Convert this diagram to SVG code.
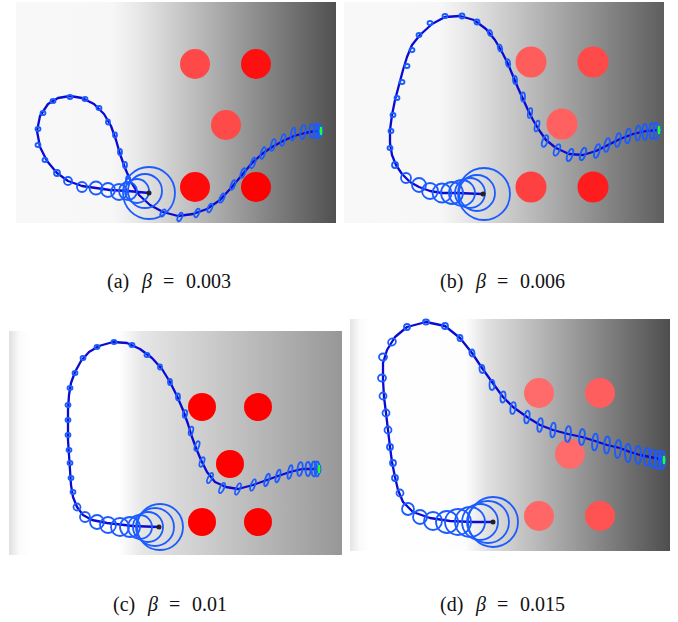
<svg xmlns="http://www.w3.org/2000/svg" width="678" height="622" viewBox="0 0 678 622">
<style>
.traj{fill:none;stroke:#0a0ad2;stroke-width:2.3;stroke-linejoin:round;stroke-linecap:round}
.cov{fill:none;stroke:#1c5cff;stroke-width:1.8}
.dot{fill:#222}
.goal{fill:#22ff22;stroke:#1c5cff;stroke-width:1}
.cap{font-family:"Liberation Serif","Times New Roman",serif;font-size:20px;fill:#111}
.it{font-style:italic}
</style>
<defs>
<linearGradient id="ga" x1="0" y1="0" x2="1" y2="0">
<stop offset="0" stop-color="#f8f8f8"/><stop offset="0.3" stop-color="#f7f7f7"/><stop offset="0.38" stop-color="#e8e8e8"/><stop offset="1" stop-color="#505050"/>
</linearGradient>
<linearGradient id="gb" x1="0" y1="0" x2="1" y2="0">
<stop offset="0" stop-color="#f8f8f8"/><stop offset="0.3" stop-color="#f7f7f7"/><stop offset="0.38" stop-color="#e8e8e8"/><stop offset="1" stop-color="#5e5e5e"/>
</linearGradient>
<linearGradient id="gc" x1="0" y1="0" x2="1" y2="0">
<stop offset="0" stop-color="#e0e0e0"/><stop offset="0.03" stop-color="#fafafa"/><stop offset="0.06" stop-color="#ffffff"/><stop offset="0.33" stop-color="#ffffff"/><stop offset="0.4" stop-color="#e6e6e6"/><stop offset="1" stop-color="#979797"/>
</linearGradient>
<linearGradient id="gd" x1="0" y1="0" x2="1" y2="0">
<stop offset="0" stop-color="#e4e4e4"/><stop offset="0.03" stop-color="#fafafa"/><stop offset="0.06" stop-color="#ffffff"/><stop offset="0.36" stop-color="#fdfdfd"/><stop offset="0.43" stop-color="#e0e0e0"/><stop offset="1" stop-color="#4e4e4e"/>
</linearGradient>
</defs>

<!-- Panel (a) -->
<g id="panel-a">
<rect x="16" y="2" width="320" height="221" fill="url(#ga)"/>
<circle cx="195" cy="64" r="15" fill="#ff4848"/>
<circle cx="256" cy="64" r="15" fill="#ff1010"/>
<circle cx="226" cy="125" r="15" fill="#ff4a4a"/>
<circle cx="195" cy="187" r="15" fill="#ff0a0a"/>
<circle cx="256" cy="187" r="15" fill="#ff0000"/>
<path class="traj" d="M149,193 L128,191 L110,190 L96,188 L82,186 L68,181 L57,173 L47,161 L40,147 L37,131 L40,116 L48,104 L58,98 L70,96 L82,98 L94,104 L104,114 L111,126 L116,140 L120,154 L125,168 L131,182 L139,195 L150,205 L163,212 L178,216 L193,214 L207,209 L220,200 L231,188 L242,175 L252,163 L262,154 L272,147 L283,141 L294,136 L305,133 L315,131 L321,131"/>
<g class="cov">
<circle cx="68" cy="181" r="4"/><circle cx="82" cy="187" r="5"/><circle cx="96" cy="188" r="6.5"/><circle cx="108" cy="190" r="7"/><circle cx="119" cy="192" r="8"/><circle cx="128" cy="191" r="9"/><circle cx="137" cy="191" r="12"/><circle cx="145" cy="191" r="17"/><circle cx="149" cy="193" r="26"/>
<ellipse cx="43" cy="113" rx="2.5" ry="2"/><ellipse cx="53" cy="101" rx="2.5" ry="2"/><ellipse cx="70" cy="97" rx="2.5" ry="2"/><ellipse cx="85" cy="99" rx="2.5" ry="2"/><ellipse cx="99" cy="108" rx="2.5" ry="2"/><ellipse cx="108" cy="122" rx="2" ry="2.5"/><ellipse cx="115" cy="135" rx="2" ry="2.5"/><ellipse cx="120" cy="152" rx="2" ry="3"/><ellipse cx="125" cy="165" rx="2" ry="3"/><ellipse cx="38" cy="129" rx="2.5" ry="2"/><ellipse cx="38" cy="145" rx="2.5" ry="2"/><ellipse cx="45" cy="160" rx="2.5" ry="2"/><ellipse cx="57" cy="173" rx="3" ry="3"/><ellipse cx="128" cy="180" rx="2" ry="4"/>
<ellipse cx="163" cy="213" rx="2" ry="4" transform="rotate(30 163 213)"/><ellipse cx="180" cy="217" rx="2" ry="4.5" transform="rotate(25 180 217)"/><ellipse cx="197" cy="213" rx="2" ry="4.5" transform="rotate(25 197 213)"/><ellipse cx="210" cy="208" rx="2" ry="4.5" transform="rotate(25 210 208)"/><ellipse cx="222" cy="198" rx="2" ry="5" transform="rotate(25 222 198)"/><ellipse cx="233" cy="185" rx="2" ry="5" transform="rotate(22 233 185)"/><ellipse cx="243" cy="173" rx="2" ry="5" transform="rotate(22 243 173)"/><ellipse cx="253" cy="163" rx="2" ry="5.5" transform="rotate(20 253 163)"/><ellipse cx="263" cy="153" rx="2" ry="6" transform="rotate(18 263 153)"/><ellipse cx="273" cy="145" rx="2" ry="6" transform="rotate(15 273 145)"/><ellipse cx="283" cy="140" rx="2" ry="6" transform="rotate(12 283 140)"/><ellipse cx="293" cy="134" rx="2" ry="6.5" transform="rotate(10 293 134)"/><ellipse cx="303" cy="132" rx="2.5" ry="7" transform="rotate(8 303 132)"/><ellipse cx="312" cy="131" rx="2.5" ry="7"/><ellipse cx="316" cy="131" rx="2.5" ry="7"/><ellipse cx="319" cy="131" rx="2.5" ry="7"/>
</g>
<ellipse class="goal" cx="321" cy="131" rx="2" ry="5"/>
<circle class="dot" cx="149" cy="193" r="2.5"/>
</g>

<!-- Panel (b) -->
<g id="panel-b">
<rect x="344" y="2" width="320" height="221" fill="url(#gb)"/>
<circle cx="531" cy="62" r="15.5" fill="#ff5c5c"/>
<circle cx="593" cy="62" r="15.5" fill="#ff4a4a"/>
<circle cx="562" cy="124" r="15.5" fill="#ff6060"/>
<circle cx="531" cy="187" r="15.5" fill="#ff4040"/>
<circle cx="593" cy="187" r="15.5" fill="#ff1c1c"/>
<path class="traj" d="M483,194 L457,193 L442,193 L430,191 L419,187 L410,182 L402,174 L396,165 L392,155 L390,143 L390,130 L392,115 L395,100 L399,85 L403,70 L407,57 L412,45 L420,35 L432,24 L445,17 L460,16 L474,20 L486,29 L495,40 L502,52 L508,64 L513,76 L518,88 L523,99 L528,110 L533,120 L539,130 L546,140 L556,148 L569,154 L583,155 L596,151 L608,145 L620,139 L633,134 L646,131 L660,130"/>
<g class="cov">
<circle cx="406" cy="178" r="5"/><circle cx="419" cy="185" r="7"/><circle cx="430" cy="191" r="8"/><circle cx="442" cy="193" r="9.5"/><circle cx="452" cy="193" r="11"/><circle cx="462" cy="193" r="13"/><circle cx="470" cy="193" r="15"/><circle cx="477" cy="193" r="18"/><circle cx="484" cy="194" r="26"/>
<ellipse cx="430" cy="23" rx="2.5" ry="2"/><ellipse cx="419" cy="35" rx="2.5" ry="2"/><ellipse cx="412" cy="50" rx="2.5" ry="2"/><ellipse cx="407" cy="66" rx="2.5" ry="2"/><ellipse cx="402" cy="82" rx="2.5" ry="2"/><ellipse cx="397" cy="98" rx="2.5" ry="2"/><ellipse cx="393" cy="115" rx="2.5" ry="2"/><ellipse cx="391" cy="131" rx="2.5" ry="2"/><ellipse cx="390" cy="148" rx="2.5" ry="2"/><ellipse cx="395" cy="165" rx="3" ry="3"/>
<ellipse cx="445" cy="16" rx="2.5" ry="2"/><ellipse cx="462" cy="16" rx="2.5" ry="2.5"/><ellipse cx="477" cy="22" rx="2.5" ry="2.5"/><ellipse cx="490" cy="33" rx="2" ry="3" transform="rotate(-20 490 33)"/><ellipse cx="500" cy="48" rx="2" ry="3.5" transform="rotate(-15 500 48)"/><ellipse cx="508" cy="63" rx="2" ry="4" transform="rotate(-10 508 63)"/><ellipse cx="515" cy="80" rx="2" ry="4" transform="rotate(-5 515 80)"/><ellipse cx="523" cy="97" rx="2" ry="4.5"/><ellipse cx="530" cy="113" rx="2" ry="5" transform="rotate(10 530 113)"/><ellipse cx="537" cy="126" rx="2" ry="5.5" transform="rotate(15 537 126)"/><ellipse cx="545" cy="141" rx="2.5" ry="6" transform="rotate(20 545 141)"/><ellipse cx="557" cy="150" rx="2.5" ry="6" transform="rotate(22 557 150)"/><ellipse cx="570" cy="155" rx="2.5" ry="6.5" transform="rotate(20 570 155)"/><ellipse cx="583" cy="154" rx="2.5" ry="6.5" transform="rotate(18 583 154)"/><ellipse cx="597" cy="151" rx="2.5" ry="7" transform="rotate(15 597 151)"/><ellipse cx="607" cy="145" rx="2.5" ry="7" transform="rotate(12 607 145)"/><ellipse cx="618" cy="140" rx="2.5" ry="7" transform="rotate(10 618 140)"/><ellipse cx="628" cy="136" rx="2.5" ry="7.5" transform="rotate(8 628 136)"/><ellipse cx="638" cy="133" rx="2.5" ry="7.5" transform="rotate(5 638 133)"/><ellipse cx="645" cy="132" rx="2.5" ry="8"/><ellipse cx="652" cy="131" rx="2.5" ry="8"/><ellipse cx="656" cy="131" rx="2.5" ry="8"/>
</g>
<ellipse class="goal" cx="659" cy="130" rx="2" ry="5"/>
<circle class="dot" cx="483" cy="194" r="2.5"/>
</g>

<!-- Panel (c) -->
<g id="panel-c">
<rect x="9" y="331" width="333" height="224" fill="url(#gc)"/>
<circle cx="202" cy="407" r="14" fill="#ff0000"/>
<circle cx="258" cy="407" r="14" fill="#ff0000"/>
<circle cx="230" cy="464" r="14" fill="#ff0000"/>
<circle cx="202" cy="522" r="14" fill="#ff0000"/>
<circle cx="258" cy="522" r="14" fill="#ff0000"/>
<path class="traj" d="M159,527 L133,526 L107,523 L92,520 L83,515 L77,507 L73,497 L71,485 L70,470 L69,455 L68,440 L68,425 L68,410 L69,395 L71,383 L75,372 L81,361 L89,352 L99,346 L113,342 L127,343 L140,349 L152,358 L162,369 L170,382 L177,396 L183,410 L188,424 L192,437 L196,448 L201,460 L207,472 L215,482 L226,487 L238,489 L253,485 L267,480 L278,476 L290,472 L302,469 L318,469"/>
<g class="cov">
<circle cx="85" cy="517" r="5"/><circle cx="97" cy="522" r="7"/><circle cx="108" cy="525" r="8"/><circle cx="120" cy="527" r="9"/><circle cx="130" cy="527" r="10"/><circle cx="140" cy="527" r="12"/><circle cx="148" cy="527" r="15"/><circle cx="155" cy="527" r="19"/><circle cx="160" cy="527" r="23"/>
<ellipse cx="70" cy="388" rx="2.5" ry="2"/><ellipse cx="68" cy="405" rx="2.5" ry="2"/><ellipse cx="68" cy="420" rx="2.5" ry="2"/><ellipse cx="68" cy="435" rx="2.5" ry="2"/><ellipse cx="69" cy="450" rx="2.5" ry="2"/><ellipse cx="70" cy="463" rx="2.5" ry="2"/><ellipse cx="71" cy="478" rx="2.5" ry="2"/><ellipse cx="73" cy="492" rx="2.5" ry="2"/><circle cx="77" cy="507" r="3.5"/>
<ellipse cx="75" cy="373" rx="2.5" ry="2"/><ellipse cx="83" cy="358" rx="2.5" ry="2"/><ellipse cx="97" cy="347" rx="2.5" ry="2"/><ellipse cx="114" cy="342" rx="2.5" ry="2"/><ellipse cx="132" cy="345" rx="2.5" ry="2"/><ellipse cx="147" cy="355" rx="2.5" ry="2"/><ellipse cx="160" cy="367" rx="2" ry="2.5"/><ellipse cx="170" cy="382" rx="2" ry="3"/><ellipse cx="178" cy="397" rx="2" ry="3.5"/><ellipse cx="185" cy="414" rx="2" ry="4" transform="rotate(10 185 414)"/><ellipse cx="191" cy="431" rx="2" ry="4.5" transform="rotate(15 191 431)"/><ellipse cx="197" cy="446" rx="2" ry="5" transform="rotate(20 197 446)"/><ellipse cx="202" cy="462" rx="2" ry="5" transform="rotate(20 202 462)"/><ellipse cx="210" cy="478" rx="2" ry="5.5" transform="rotate(25 210 478)"/><ellipse cx="222" cy="488" rx="2" ry="5.5" transform="rotate(25 222 488)"/><ellipse cx="238" cy="489" rx="2" ry="6" transform="rotate(22 238 489)"/><ellipse cx="253" cy="485" rx="2" ry="6" transform="rotate(20 253 485)"/><ellipse cx="267" cy="480" rx="2" ry="6.5" transform="rotate(18 267 480)"/><ellipse cx="278" cy="476" rx="2" ry="6.5" transform="rotate(15 278 476)"/><ellipse cx="290" cy="472" rx="2" ry="7" transform="rotate(12 290 472)"/><ellipse cx="300" cy="469" rx="2.5" ry="7" transform="rotate(8 300 469)"/><ellipse cx="308" cy="469" rx="2.5" ry="7"/><ellipse cx="314" cy="469" rx="2.5" ry="7.5"/><ellipse cx="317" cy="469" rx="2.5" ry="7.5"/>
</g>
<ellipse class="goal" cx="319" cy="469" rx="2" ry="5"/>
<circle class="dot" cx="159" cy="527" r="2.5"/>
</g>

<!-- Panel (d) -->
<g id="panel-d">
<rect x="350" y="319" width="320" height="232" fill="url(#gd)"/>
<circle cx="539" cy="393" r="15" fill="#ff6a6a"/>
<circle cx="600" cy="393" r="15" fill="#ff5e5e"/>
<circle cx="570" cy="454" r="15" fill="#ff6a6a"/>
<circle cx="539" cy="516" r="15" fill="#ff6666"/>
<circle cx="600" cy="516" r="15" fill="#ff5252"/>
<path class="traj" d="M493,522 L473,522 L450,521 L430,518 L413,512 L403,502 L398,490 L395,477 L392,462 L390,447 L388,430 L386,413 L384,397 L383,380 L383,363 L387,350 L395,337 L407,327 L426,322 L445,326 L460,338 L472,353 L482,368 L492,382 L503,397 L513,407 L527,417 L540,425 L553,430 L568,434 L582,437 L595,441 L607,445 L620,448 L630,452 L640,455 L650,457 L660,459 L665,460"/>
<g class="cov">
<circle cx="408" cy="509" r="6"/><circle cx="420" cy="517" r="7"/><circle cx="433" cy="521" r="9"/><circle cx="447" cy="522" r="11"/><circle cx="458" cy="522" r="13"/><circle cx="470" cy="522" r="15"/><circle cx="480" cy="522" r="18"/><circle cx="488" cy="522" r="21"/><circle cx="493" cy="522" r="25"/>
<ellipse cx="383" cy="357" rx="4" ry="3.5"/><ellipse cx="382" cy="378" rx="4" ry="3.5"/><ellipse cx="383" cy="396" rx="3.5" ry="3.5"/><ellipse cx="386" cy="413" rx="3.5" ry="3.5"/><ellipse cx="388" cy="430" rx="3.5" ry="3.5"/><ellipse cx="390" cy="447" rx="3" ry="3"/><ellipse cx="393" cy="463" rx="3" ry="3"/><ellipse cx="395" cy="478" rx="3" ry="3"/><ellipse cx="400" cy="493" rx="3.5" ry="3.5"/>
<ellipse cx="392" cy="342" rx="4" ry="3.5" transform="rotate(-30 392 342)"/><ellipse cx="407" cy="327" rx="3" ry="3"/><ellipse cx="426" cy="322" rx="3" ry="2.5"/><ellipse cx="445" cy="326" rx="3" ry="3"/><ellipse cx="460" cy="338" rx="2.5" ry="3"/><ellipse cx="472" cy="353" rx="2.5" ry="3.5" transform="rotate(-10 472 353)"/><ellipse cx="482" cy="369" rx="2.5" ry="4" transform="rotate(-5 482 369)"/><ellipse cx="492" cy="385" rx="2.5" ry="5"/><ellipse cx="503" cy="397" rx="2.5" ry="5.5" transform="rotate(5 503 397)"/><ellipse cx="513" cy="408" rx="2.5" ry="6" transform="rotate(8 513 408)"/><ellipse cx="527" cy="417" rx="2.5" ry="6.5" transform="rotate(8 527 417)"/><ellipse cx="540" cy="425" rx="2.5" ry="7" transform="rotate(8 540 425)"/><ellipse cx="553" cy="430" rx="2.5" ry="7.5" transform="rotate(6 553 430)"/><ellipse cx="568" cy="434" rx="2.8" ry="8" transform="rotate(6 568 434)"/><ellipse cx="582" cy="437" rx="2.8" ry="8" transform="rotate(5 582 437)"/><ellipse cx="595" cy="442" rx="2.8" ry="8.5" transform="rotate(5 595 442)"/><ellipse cx="607" cy="445" rx="2.8" ry="8.5" transform="rotate(4 607 445)"/><ellipse cx="618" cy="449" rx="3" ry="9" transform="rotate(4 618 449)"/><ellipse cx="628" cy="453" rx="3" ry="9"/><ellipse cx="638" cy="455" rx="3" ry="9"/><ellipse cx="647" cy="457" rx="3" ry="9"/><ellipse cx="653" cy="459" rx="3" ry="9"/><ellipse cx="658" cy="460" rx="3" ry="9"/><ellipse cx="662" cy="460" rx="3" ry="9"/>
</g>
<ellipse class="goal" cx="664" cy="460" rx="2" ry="5"/>
<circle class="dot" cx="493" cy="522" r="2.5"/>
</g>

<!-- Captions -->
<g id="captions" class="cap">
<text y="288"><tspan x="107">(a)</tspan><tspan x="142" class="it">β</tspan><tspan x="163">=</tspan><tspan x="186">0.003</tspan></text>
<text y="288"><tspan x="440">(b)</tspan><tspan x="476" class="it">β</tspan><tspan x="497">=</tspan><tspan x="520">0.006</tspan></text>
<text y="611"><tspan x="113">(c)</tspan><tspan x="148" class="it">β</tspan><tspan x="169">=</tspan><tspan x="192">0.01</tspan></text>
<text y="611"><tspan x="440">(d)</tspan><tspan x="476" class="it">β</tspan><tspan x="497">=</tspan><tspan x="520">0.015</tspan></text>
</g>
</svg>
